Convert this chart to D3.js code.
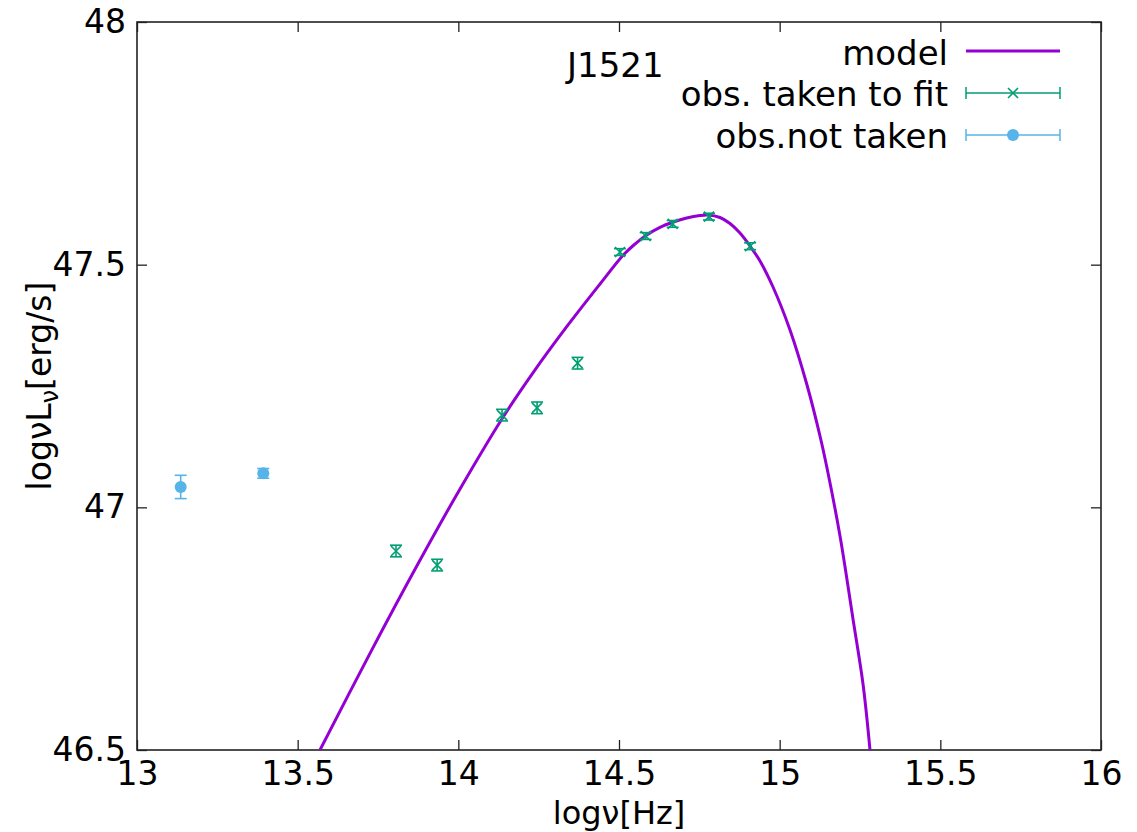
<!DOCTYPE html>
<html>
<head>
<meta charset="utf-8">
<script src="https://cdn.jsdelivr.net/npm/d3@7"></script>
<style>
  html, body { margin: 0; padding: 0; background: #fff; }
  svg { display: block; font-family: "DejaVu Sans", sans-serif; }
</style>
</head>
<body>
<svg id="chart" width="1137" height="832"></svg>
<script>
// ---- data ----
const modelX = [13.5695, 13.7251, 13.8754, 14.0052, 14.1400, 14.2333, 14.3373, 14.4409, 14.5134, 14.5445, 14.5862, 14.6276, 14.6690, 14.7107, 14.7521, 14.7770, 14.8143, 14.8454, 14.8765, 14.9077, 14.9388, 14.9793, 15.0322, 15.0842, 15.1255, 15.1473, 15.1878, 15.2282, 15.2594, 15.2811];
const modelY = [46.5000, 46.6992, 46.8847, 47.0378, 47.1867, 47.2782, 47.3722, 47.4602, 47.5199, 47.5395, 47.5612, 47.5770, 47.5879, 47.5962, 47.6013, 47.6023, 47.5972, 47.5848, 47.5652, 47.5385, 47.5076, 47.4540, 47.3654, 47.2541, 47.1470, 47.0810, 46.9409, 46.7699, 46.6360, 46.5000];

const fitX = [13.806, 13.934, 14.136, 14.245, 14.371, 14.503, 14.583, 14.667, 14.780, 14.908];
const fitY = [46.910, 46.881, 47.190, 47.205, 47.297, 47.526, 47.559, 47.584, 47.599, 47.538];
const fitErr = [0.012, 0.012, 0.012, 0.012, 0.012, 0.007, 0.007, 0.007, 0.007, 0.007];

const notX = [13.136, 13.393];
const notY = [47.042, 47.070];
const notErr = [0.024, 0.010];

const xTicks = [13, 13.5, 14, 14.5, 15, 15.5, 16];
const yTicks = [46.5, 47, 47.5, 48];

const legendLabels = ["model", "obs. taken to fit", "obs.not taken"];
const titleText = "J1521";

// ---- styles ----
const C_MODEL = "#9400D3", C_FIT = "#009E73", C_NOT = "#56B4E9";
const FONT = 33;

const svg = d3.select("#chart");
const L = 137, R = 1101, T = 22, B = 750;

const x = d3.scaleLinear().domain([13, 16]).range([L, R]);
const y = d3.scaleLinear().domain([46.5, 48]).range([B, T]);

const fmt = d => String(d);

// axes (ticks inside, mirrored)
const gB = svg.append("g").attr("transform", `translate(0,${B})`)
  .call(d3.axisBottom(x).tickValues(xTicks).tickFormat(fmt).tickSizeInner(-10).tickSizeOuter(0).tickPadding(12));
const gL = svg.append("g").attr("transform", `translate(${L},0)`)
  .call(d3.axisLeft(y).tickValues(yTicks).tickFormat(fmt).tickSizeInner(-10).tickSizeOuter(0).tickPadding(11));
const gT = svg.append("g").attr("transform", `translate(0,${T})`)
  .call(d3.axisTop(x).tickValues(xTicks).tickFormat("").tickSizeInner(-10).tickSizeOuter(0));
const gR = svg.append("g").attr("transform", `translate(${R},0)`)
  .call(d3.axisRight(y).tickValues(yTicks).tickFormat("").tickSizeInner(-10).tickSizeOuter(0));

[gB, gL, gT, gR].forEach(g => {
  g.select(".domain").remove();
  g.selectAll(".tick line").attr("stroke", "#222").attr("stroke-width", 1.3);
  g.selectAll(".tick text").attr("fill", "#000").style("font-size", FONT + "px").style("font-family", "DejaVu Sans");
});

// frame
svg.append("rect").attr("x", L).attr("y", T).attr("width", R - L).attr("height", B - T)
  .attr("fill", "none").attr("stroke", "#222").attr("stroke-width", 1.6);

// clip
svg.append("clipPath").attr("id", "clip").append("rect")
  .attr("x", L).attr("y", T).attr("width", R - L).attr("height", B - T);

const plot = svg.append("g").attr("clip-path", "url(#clip)");

// model curve
const modelData = modelX.map((v, i) => [v, modelY[i]]);
plot.append("path").datum(modelData)
  .attr("fill", "none").attr("stroke", C_MODEL).attr("stroke-width", 3)
  .attr("d", d3.line().x(d => x(d[0])).y(d => y(d[1])).curve(d3.curveCatmullRom.alpha(0.5)));

// helpers
function errBar(g, cx, cy0, cy1, color, cap) {
  g.append("line").attr("x1", cx).attr("x2", cx).attr("y1", cy0).attr("y2", cy1).attr("stroke", color).attr("stroke-width", 1.6);
  g.append("line").attr("x1", cx - cap).attr("x2", cx + cap).attr("y1", cy0).attr("y2", cy0).attr("stroke", color).attr("stroke-width", 1.6);
  g.append("line").attr("x1", cx - cap).attr("x2", cx + cap).attr("y1", cy1).attr("y2", cy1).attr("stroke", color).attr("stroke-width", 1.6);
}
function cross(g, cx, cy, s, color) {
  g.append("path").attr("d", `M${cx - s},${cy - s}L${cx + s},${cy + s}M${cx - s},${cy + s}L${cx + s},${cy - s}`)
    .attr("stroke", color).attr("stroke-width", 1.6).attr("fill", "none");
}

// fit points
const gFit = plot.append("g");
fitX.forEach((v, i) => {
  const cx = x(v), cy = y(fitY[i]);
  errBar(gFit, cx, y(fitY[i] + fitErr[i]), y(fitY[i] - fitErr[i]), C_FIT, 6);
  cross(gFit, cx, cy, 5, C_FIT);
});

// not-taken points
const gNot = plot.append("g");
notX.forEach((v, i) => {
  const cx = x(v), cy = y(notY[i]);
  errBar(gNot, cx, y(notY[i] + notErr[i]), y(notY[i] - notErr[i]), C_NOT, 6);
  gNot.append("circle").attr("cx", cx).attr("cy", cy).attr("r", 6).attr("fill", C_NOT);
});

// title
svg.append("text").attr("x", 567).attr("y", 77).attr("fill", "#000")
  .style("font-size", "34px").text(titleText);

// legend
const legBase = [65, 106, 148];
const legLineY = [51, 93, 135];
const lx0 = 966, lx1 = 1060, lxm = 1013;
legendLabels.forEach((t, i) => {
  svg.append("text").attr("x", 948).attr("y", legBase[i]).attr("text-anchor", "end")
    .attr("fill", "#000").style("font-size", "34px").text(t);
});
svg.append("line").attr("x1", lx0).attr("x2", lx1).attr("y1", legLineY[0]).attr("y2", legLineY[0])
  .attr("stroke", C_MODEL).attr("stroke-width", 3);
const gLeg = svg.append("g");
[[C_FIT, legLineY[1]], [C_NOT, legLineY[2]]].forEach(([c, ly]) => {
  gLeg.append("line").attr("x1", lx0).attr("x2", lx1).attr("y1", ly).attr("y2", ly).attr("stroke", c).attr("stroke-width", 1.5);
  gLeg.append("line").attr("x1", lx0).attr("x2", lx0).attr("y1", ly - 6).attr("y2", ly + 6).attr("stroke", c).attr("stroke-width", 1.5);
  gLeg.append("line").attr("x1", lx1).attr("x2", lx1).attr("y1", ly - 6).attr("y2", ly + 6).attr("stroke", c).attr("stroke-width", 1.5);
});
cross(gLeg, lxm, legLineY[1], 5, C_FIT);
gLeg.append("circle").attr("cx", lxm).attr("cy", legLineY[2]).attr("r", 6).attr("fill", C_NOT);

// axis labels
svg.append("text").attr("x", (L + R) / 2).attr("y", 824).attr("text-anchor", "middle")
  .attr("fill", "#000").style("font-size", "32px").text("logν[Hz]");

const yl = svg.append("text").attr("transform", `translate(51,${(T + B) / 2}) rotate(-90)`)
  .attr("text-anchor", "middle").attr("fill", "#000").style("font-size", FONT + "px");
yl.append("tspan").text("logνL");
yl.append("tspan").attr("dy", 7).style("font-size", "24px").text("ν");
yl.append("tspan").attr("dy", -7).text("[erg/s]");
</script>
</body>
</html>
